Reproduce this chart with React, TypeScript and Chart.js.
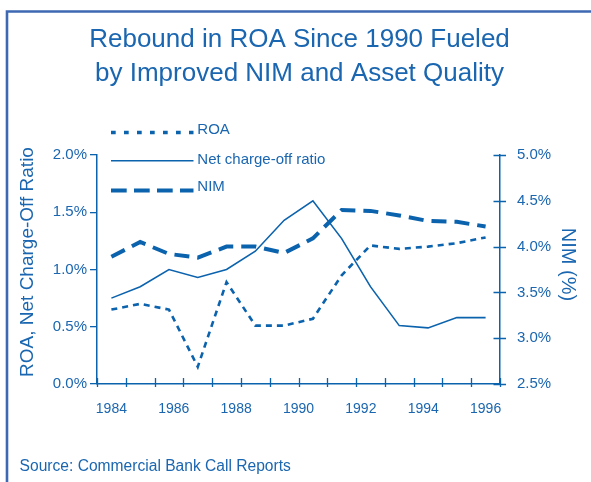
import React, { useEffect, useRef } from 'react';
import { Chart, registerables } from 'chart.js';

Chart.register(...registerables);

// ---- data ----
const periods = [0, 1, 2, 3, 4, 5, 6, 7, 8, 9, 10, 11, 12, 13];
const yearLabels = ['1984', '1986', '1988', '1990', '1992', '1994', '1996'];
const roa = [0.65, 0.70, 0.65, 0.15, 0.89, 0.51, 0.51, 0.57, 0.95, 1.21, 1.18, 1.20, 1.23, 1.28];
const chargeOff = [0.75, 0.85, 1.00, 0.93, 1.00, 1.16, 1.43, 1.60, 1.27, 0.85, 0.51, 0.49, 0.58, 0.58];
const nim = [3.89, 4.05, 3.92, 3.88, 4.00, 4.00, 3.93, 4.09, 4.40, 4.39, 4.34, 4.28, 4.27, 4.22];
const leftTicks = [0, 0.5, 1.0, 1.5, 2.0];
const rightTicks = [2.5, 3.0, 3.5, 4.0, 4.5, 5.0];
const seriesNames = ['ROA', 'Net charge-off ratio', 'NIM'];
const titleLines = ['Rebound in ROA Since 1990 Fueled', 'by Improved NIM and Asset Quality'];
const leftTitle = 'ROA, Net Charge-Off Ratio';
const rightTitle = 'NIM (%)';
const sourceText = 'Source: Commercial Bank Call Reports';

// ---- styles ----
const FONT = "'Liberation Sans', Arial, Helvetica, sans-serif";
const LINE = '#0b62ad';
const TEXT = '#1a66b0';
const FRAME = '#3e68b3';

const legendStyles = [
  { dash: [4.7, 8.3], width: 3.3, y: 132.5, textY: 134 },
  { dash: [], width: 1.6, y: 160.8, textY: 163.5 },
  { dash: [15.7, 7.3], width: 3.8, y: 190.5, textY: 191 },
];

const decorPlugin = {
  id: 'decor',
  beforeDraw(chart: any) {
    const ctx = chart.ctx;
    ctx.save();
    ctx.fillStyle = '#ffffff';
    ctx.fillRect(0, 0, chart.width, chart.height);
    ctx.strokeStyle = FRAME;
    ctx.lineWidth = 2.6;
    ctx.beginPath();
    ctx.moveTo(7, chart.height);
    ctx.lineTo(7, 11.5);
    ctx.lineTo(chart.width, 11.5);
    ctx.stroke();
    ctx.restore();
  },
  afterDraw(chart: any) {
    const ctx = chart.ctx;
    const area = chart.chartArea;
    const xs = chart.scales.x;
    const yr = chart.scales.y1;
    ctx.save();
    // x tick marks at category boundaries (crossing)
    ctx.strokeStyle = LINE;
    ctx.lineWidth = 1.3;
    ctx.beginPath();
    for (let i = 0; i <= periods.length; i++) {
      const px = Math.round(xs.getPixelForValue(i - 0.5)) + 0.5;
      ctx.moveTo(px, area.bottom - 6);
      ctx.lineTo(px, area.bottom + 3);
    }
    // right axis tick marks (crossing)
    rightTicks.forEach((v) => {
      const py = Math.round(yr.getPixelForValue(v)) + 0.5;
      ctx.moveTo(area.right - 6.5, py);
      ctx.lineTo(area.right + 6, py);
    });
    ctx.stroke();

    // title
    ctx.fillStyle = TEXT;
    ctx.font = `26px ${FONT}`;
    ctx.textAlign = 'center';
    ctx.textBaseline = 'alphabetic';
    ctx.fillText(titleLines[0], 299.5, 47);
    ctx.fillText(titleLines[1], 299.5, 80.5);

    // axis titles
    ctx.font = `19px ${FONT}`;
    ctx.textBaseline = 'middle';
    ctx.save();
    ctx.translate(27.5, 262);
    ctx.rotate(-Math.PI / 2);
    ctx.fillText(leftTitle, 0, 0);
    ctx.restore();
    ctx.font = `20px ${FONT}`;
    ctx.save();
    ctx.translate(568, 264.5);
    ctx.rotate(Math.PI / 2);
    ctx.fillText(rightTitle, 0, 0);
    ctx.restore();

    // legend
    chart.data.datasets.forEach((ds: any, i: number) => {
      const st = legendStyles[i];
      ctx.strokeStyle = ds.borderColor;
      ctx.lineWidth = st.width;
      ctx.setLineDash(st.dash);
      ctx.lineCap = 'butt';
      ctx.beginPath();
      ctx.moveTo(111, st.y);
      ctx.lineTo(193.5, st.y);
      ctx.stroke();
      ctx.setLineDash([]);
      ctx.fillStyle = TEXT;
      ctx.font = `15px ${FONT}`;
      ctx.textAlign = 'left';
      ctx.textBaseline = 'alphabetic';
      ctx.fillText(ds.label, 197.3, st.textY);
    });

    // source
    ctx.font = `15.6px ${FONT}`;
    ctx.textAlign = 'left';
    ctx.textBaseline = 'alphabetic';
    ctx.fillStyle = TEXT;
    ctx.fillText(sourceText, 19.6, 471);
    ctx.restore();
  },
};

export default function App() {
  const ref = useRef<HTMLCanvasElement | null>(null);
  useEffect(() => {
    if (!ref.current) return;
    const mk = (vals: number[]) => periods.map((p, i) => ({ x: p, y: vals[i] }));
    const chart = new Chart(ref.current, {
      type: 'line',
      data: {
        datasets: [
          {
            label: seriesNames[0], data: mk(roa), yAxisID: 'y', borderColor: LINE,
            borderWidth: 2.6, borderDash: [6, 5], pointRadius: 0, fill: false, tension: 0,
          },
          {
            label: seriesNames[1], data: mk(chargeOff), yAxisID: 'y', borderColor: LINE,
            borderWidth: 1.6, pointRadius: 0, fill: false, tension: 0,
          },
          {
            label: seriesNames[2], data: mk(nim), yAxisID: 'y1', borderColor: LINE,
            borderWidth: 4, borderDash: [15, 8], pointRadius: 0, fill: false, tension: 0,
          },
        ],
      },
      options: {
        animation: false,
        responsive: false,
        devicePixelRatio: 1,
        layout: { padding: { top: 155, left: 0, right: 0, bottom: 0 } },
        plugins: { legend: { display: false }, title: { display: false }, tooltip: { enabled: false } },
        scales: {
          x: {
            type: 'linear',
            min: -0.5,
            max: periods.length - 0.5,
            afterBuildTicks: (axis: any) => {
              axis.ticks = yearLabels.map((_, k) => ({
                value: (k * (periods.length - 1)) / (yearLabels.length - 1),
              }));
            },
            afterFit: (axis: any) => { axis.height = 98; },
            grid: { display: false, drawTicks: false },
            border: { display: true, color: LINE, width: 1.5 },
            ticks: {
              autoSkip: false, maxRotation: 0, padding: 17, color: TEXT,
              font: { family: FONT, size: 14 },
              callback: (_v: any, i: number) => yearLabels[i],
            },
          },
          y: {
            position: 'left',
            min: 0,
            max: 2,
            afterBuildTicks: (axis: any) => { axis.ticks = leftTicks.map((v) => ({ value: v })); },
            afterFit: (axis: any) => { axis.width = 97; },
            grid: { display: true, drawOnChartArea: false, drawTicks: true, tickLength: 7, color: LINE, lineWidth: 1.3 },
            border: { display: true, color: LINE, width: 1.5 },
            ticks: {
              padding: 3, color: TEXT, font: { family: FONT, size: 15 },
              callback: (v: any) => Number(v).toFixed(1) + '%',
            },
          },
          y1: {
            position: 'right',
            min: 2.5,
            max: 5,
            afterBuildTicks: (axis: any) => { axis.ticks = rightTicks.map((v) => ({ value: v })); },
            afterFit: (axis: any) => { axis.width = 91; },
            grid: { display: false, drawTicks: false },
            border: { display: true, color: LINE, width: 1.5 },
            ticks: {
              padding: 17, color: TEXT, font: { family: FONT, size: 15 },
              callback: (v: any) => Number(v).toFixed(1) + '%',
            },
          },
        },
      },
      plugins: [decorPlugin],
    } as any);
    return () => chart.destroy();
  }, []);
  return (
    <div style={{ position: 'absolute', left: 0, top: 0, width: 591, height: 482 }}>
      <canvas ref={ref} width={591} height={482} />
    </div>
  );
}
